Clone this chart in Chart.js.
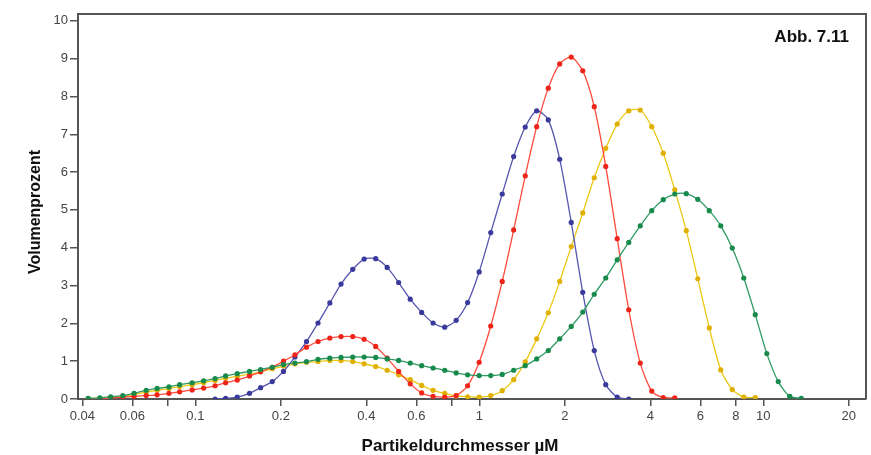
<!DOCTYPE html>
<html>
<head>
<meta charset="utf-8">
<script src="https://cdn.jsdelivr.net/npm/chart.js@4/dist/chart.umd.min.js"></script>
<style>
  html, body { margin: 0; padding: 0; background: #ffffff; }
  #wrap { width: 871px; height: 455px; position: relative; }
</style>
</head>
<body>
<div id="wrap"><canvas id="chart" width="871" height="455"></canvas></div>
<script>
// Particle size channels (µm, geometric channel centres)
const sizes = [
  0.0419, 0.0461, 0.0503, 0.0555, 0.0608, 0.0671, 0.0733, 0.0807, 0.0880, 0.0974,
  0.1069, 0.1173, 0.1278, 0.1404, 0.1551, 0.1697, 0.1865, 0.2043, 0.2242, 0.2462,
  0.2703, 0.2975, 0.3258, 0.3583, 0.3929, 0.4316, 0.4736, 0.5197, 0.5710, 0.6265,
  0.6873, 0.7554, 0.8287, 0.9094, 0.9985, 1.097, 1.204, 1.321, 1.451, 1.592,
  1.749, 1.919, 2.107, 2.313, 2.539, 2.787, 3.059, 3.359, 3.687, 4.047,
  4.443, 4.878, 5.355, 5.879, 6.453, 7.083, 7.776, 8.537, 9.371, 10.29,
  11.29, 12.39, 13.61
];

// Volume percent per channel (null = not measured)
const volGreen = [
  0.02, 0.03, 0.06, 0.09, 0.15, 0.23, 0.28, 0.32, 0.38, 0.43,
  0.48, 0.54, 0.61, 0.67, 0.73, 0.78, 0.84, 0.91, 0.95, 0.99,
  1.05, 1.08, 1.10, 1.11, 1.11, 1.10, 1.06, 1.02, 0.95, 0.88,
  0.82, 0.76, 0.69, 0.64, 0.62, 0.62, 0.65, 0.76, 0.88, 1.06,
  1.28, 1.59, 1.92, 2.30, 2.77, 3.20, 3.68, 4.14, 4.58, 4.98,
  5.27, 5.42, 5.43, 5.28, 4.98, 4.58, 3.99, 3.20, 2.23, 1.20,
  0.46, 0.07, 0.02
];

const volRed = [
  0.00, 0.01, 0.03, 0.05, 0.07, 0.09, 0.11, 0.15, 0.19, 0.24,
  0.29, 0.35, 0.43, 0.50, 0.61, 0.72, 0.84, 1.00, 1.17, 1.37,
  1.52, 1.61, 1.65, 1.65, 1.58, 1.39, 1.08, 0.73, 0.40, 0.16,
  0.07, 0.05, 0.09, 0.35, 0.97, 1.93, 3.11, 4.47, 5.90, 7.20,
  8.22, 8.86, 9.04, 8.68, 7.73, 6.15, 4.24, 2.36, 0.95, 0.21,
  0.04, 0.03, null, null, null, null, null, null, null, null,
  null, null, null
];

const volBlue = [
  null, null, null, null, null, null, null, null, null, null,
  null, 0.00, 0.02, 0.05, 0.15, 0.30, 0.46, 0.73, 1.11, 1.52,
  2.01, 2.54, 3.04, 3.43, 3.70, 3.71, 3.48, 3.08, 2.64, 2.29,
  2.01, 1.90, 2.08, 2.55, 3.36, 4.40, 5.42, 6.41, 7.19, 7.62,
  7.38, 6.34, 4.67, 2.82, 1.28, 0.38, 0.05, 0.00, null, null,
  null, null, null, null, null, null, null, null, null, null,
  null, null, null
];

const volYellow = [
  0.01, 0.02, 0.04, 0.07, 0.12, 0.18, 0.23, 0.28, 0.33, 0.38,
  0.43, 0.49, 0.55, 0.60, 0.66, 0.72, 0.80, 0.87, 0.93, 0.97,
  0.99, 1.02, 1.02, 0.99, 0.93, 0.86, 0.76, 0.64, 0.51, 0.36,
  0.23, 0.15, 0.08, 0.06, 0.05, 0.09, 0.22, 0.51, 0.98, 1.59,
  2.28, 3.11, 4.03, 4.92, 5.85, 6.63, 7.27, 7.62, 7.64, 7.20,
  6.50, 5.53, 4.45, 3.18, 1.88, 0.77, 0.25, 0.05, 0.04, null,
  null, null, null
];

// Axis ticks
const xTickValues = [0.04, 0.06, 0.08, 0.1, 0.2, 0.4, 0.6, 0.8, 1, 2, 4, 6, 8, 10, 20];
const xTickLabels = ['0.04', '0.06', '', '0.1', '0.2', '0.4', '0.6', '', '1', '2', '4', '6', '8', '10', '20'];
const yTickValues = [0, 1, 2, 3, 4, 5, 6, 7, 8, 9, 10];

const xTitle = 'Partikeldurchmesser µM';
const yTitle = 'Volumenprozent';
const figureLabel = 'Abb. 7.11';

function toPoints(vals) {
  const pts = [];
  vals.forEach((v, i) => { if (v !== null) pts.push({ x: sizes[i], y: v }); });
  return pts;
}

function series(label, vals, line, dot) {
  return {
    label: label,
    data: toPoints(vals),
    borderColor: line,
    backgroundColor: dot,
    pointBackgroundColor: dot,
    pointBorderColor: dot,
    pointBorderWidth: 0,
    pointRadius: 2.6,
    borderWidth: 1.3,
    tension: 0.25,
    fill: false
  };
}

const frameColor = '#555555';
const tickFont = { family: '"Liberation Sans", Arial, sans-serif', size: 13 };

// Frame on top/right plus the axis titles and figure label
const decorations = {
  id: 'decorations',
  afterDraw(chart) {
    const { ctx, chartArea } = chart;
    ctx.save();
    ctx.strokeStyle = frameColor;
    ctx.lineWidth = 2;
    ctx.beginPath();
    ctx.moveTo(chartArea.left, chartArea.top);
    ctx.lineTo(chartArea.right, chartArea.top);
    ctx.lineTo(chartArea.right, chartArea.bottom);
    ctx.stroke();

    ctx.fillStyle = '#111111';
    ctx.font = 'bold 17px "Liberation Sans", Arial, sans-serif';
    ctx.textAlign = 'center';
    ctx.textBaseline = 'alphabetic';
    ctx.fillText(xTitle, 460, 451);

    ctx.textAlign = 'right';
    ctx.fillText(figureLabel, 849, 42);

    ctx.translate(40, 212);
    ctx.rotate(-Math.PI / 2);
    ctx.textAlign = 'center';
    ctx.font = 'bold 16px "Liberation Sans", Arial, sans-serif';
    ctx.fillText(yTitle, 0, 0);
    ctx.restore();
  }
};

new Chart(document.getElementById('chart'), {
  type: 'line',
  data: {
    datasets: [
      series('grün', volGreen, '#2e9a62', '#178a4c'),
      series('rot', volRed, '#ff4a3c', '#ee2418'),
      series('blau', volBlue, '#5656b0', '#3a3a9c'),
      series('gelb', volYellow, '#ecc814', '#e0b000')
    ]
  },
  options: {
    responsive: false,
    animation: false,
    devicePixelRatio: 1,
    layout: { padding: { top: 14, right: 5, left: 0, bottom: 0 } },
    plugins: { legend: { display: false }, tooltip: { enabled: false } },
    scales: {
      x: {
        type: 'logarithmic',
        position: 'bottom',
        min: 0.0386,
        max: 23,
        afterBuildTicks: (s) => { s.ticks = xTickValues.map(v => ({ value: v })); },
        afterFit: (s) => { s.height = 56; },
        ticks: {
          autoSkip: false,
          maxRotation: 0,
          minRotation: 0,
          padding: 3,
          color: '#444444',
          font: tickFont,
          callback: (v, i) => xTickLabels[i]
        },
        grid: { drawOnChartArea: false, drawTicks: true, tickLength: 7, color: frameColor, lineWidth: 1.5 },
        border: { display: true, color: frameColor, width: 2 }
      },
      y: {
        type: 'linear',
        min: 0,
        max: 10.18,
        afterBuildTicks: (s) => { s.ticks = yTickValues.map(v => ({ value: v })); },
        afterFit: (s) => { s.width = 78; },
        ticks: {
          autoSkip: false,
          padding: 2,
          color: '#444444',
          font: tickFont,
          callback: (v) => String(v)
        },
        grid: { drawOnChartArea: false, drawTicks: true, tickLength: 8, color: frameColor, lineWidth: 1.5 },
        border: { display: true, color: frameColor, width: 2 }
      }
    }
  },
  plugins: [decorations]
});
</script>
</body>
</html>
